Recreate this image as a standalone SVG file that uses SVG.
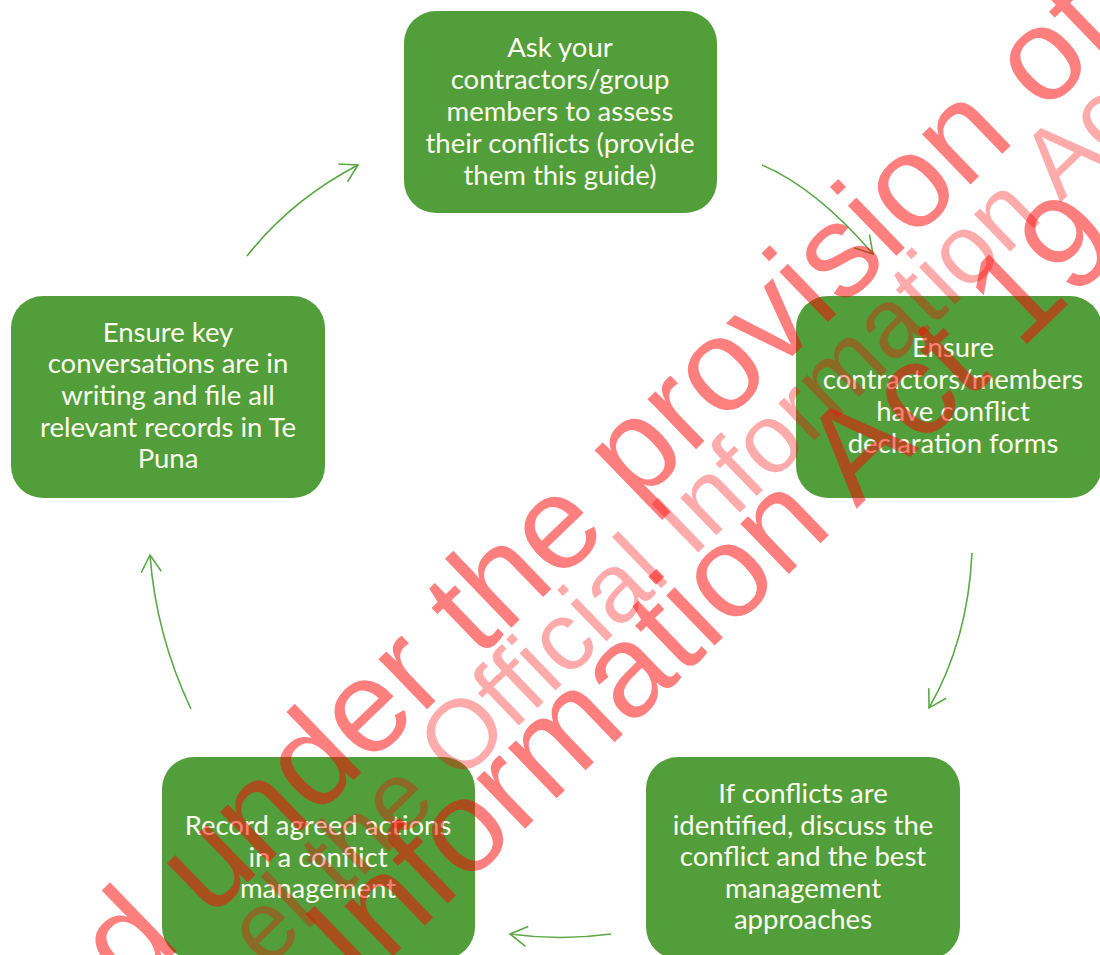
<svg xmlns="http://www.w3.org/2000/svg" width="1100" height="955" viewBox="0 0 1100 955">
  <defs>
    <style>
      .box { fill: #529e3a; }
      .lbl { font-family: Lato, "Open Sans", "Liberation Sans", sans-serif; font-size: 27.5px; fill: #fcfcee; text-anchor: middle; }
      .conn { fill: none; stroke: #5aa846; stroke-width: 1.6; }
      .wm { font-family: "Liberation Sans", Arial, sans-serif; fill: #ff0000; }
      .wm-big { font-size: 132px; fill-opacity: 0.5; }
      .wm-small { font-size: 98px; fill-opacity: 0.33; }
    </style>
    <marker id="arrow" markerUnits="userSpaceOnUse" markerWidth="24" markerHeight="24" viewBox="-20 -12 22 24" refX="0" refY="0" orient="auto">
      <path d="M-17,-10 L0,0 L-17,10" fill="none" stroke="#5aa846" stroke-width="1.6"/>
    </marker>
  </defs>
  <rect width="1100" height="955" fill="#ffffff"/>

  <g id="node-ask">
    <rect class="box" x="404" y="11" width="313" height="202" rx="32"/>
    <text class="lbl" x="560" y="57">Ask your</text>
    <text class="lbl" x="560" y="89">contractors/group</text>
    <text class="lbl" x="560" y="121">members to assess</text>
    <text class="lbl" x="560" y="153">their conflicts (provide</text>
    <text class="lbl" x="560" y="185">them this guide)</text>
  </g>

  <g id="node-ensure-forms">
    <rect class="box" x="796" y="296" width="306" height="202" rx="32"/>
    <text class="lbl" x="953" y="357">Ensure</text>
    <text class="lbl" x="953" y="389">contractors/members</text>
    <text class="lbl" x="953" y="421">have conflict</text>
    <text class="lbl" x="953" y="453">declaration forms</text>
  </g>

  <g id="node-discuss">
    <rect class="box" x="646" y="757" width="314" height="202" rx="32"/>
    <text class="lbl" x="803" y="803">If conflicts are</text>
    <text class="lbl" x="803" y="835">identified, discuss the</text>
    <text class="lbl" x="803" y="866">conflict and the best</text>
    <text class="lbl" x="803" y="898">management</text>
    <text class="lbl" x="803" y="929">approaches</text>
  </g>

  <g id="node-record">
    <rect class="box" x="162" y="757" width="313" height="202" rx="32"/>
    <text class="lbl" x="318" y="835">Record agreed actions</text>
    <text class="lbl" x="318" y="867">in a conflict</text>
    <text class="lbl" x="318" y="898">management</text>
  </g>

  <g id="node-writing">
    <rect class="box" x="11" y="296" width="314" height="202" rx="32"/>
    <text class="lbl" x="168" y="342">Ensure key</text>
    <text class="lbl" x="168" y="373">conversations are in</text>
    <text class="lbl" x="168" y="405">writing and file all</text>
    <text class="lbl" x="168" y="437">relevant records in Te</text>
    <text class="lbl" x="168" y="468">Puna</text>
  </g>

  <g id="connectors">
    <path class="conn" d="M762,165 Q816,188 873,254" marker-end="url(#arrow)"/>
    <path class="conn" d="M972,553 Q968,640 929,708" marker-end="url(#arrow)"/>
    <path class="conn" d="M611,934 Q560,941 510,934" marker-end="url(#arrow)"/>
    <path class="conn" d="M191,709 Q156,635 150,555" marker-end="url(#arrow)"/>
    <path class="conn" d="M247,256 Q291,200 358,165" marker-end="url(#arrow)"/>
  </g>

  <g id="watermark">
    <text class="wm wm-big" transform="translate(130,996) rotate(-44)">d under the provision of</text>
    <text class="wm wm-small" transform="translate(266,970) rotate(-44)">el the Official Information Act</text>
    <text class="wm wm-big" transform="translate(360,988) rotate(-44)">Information Act 19</text>
  </g>
</svg>
